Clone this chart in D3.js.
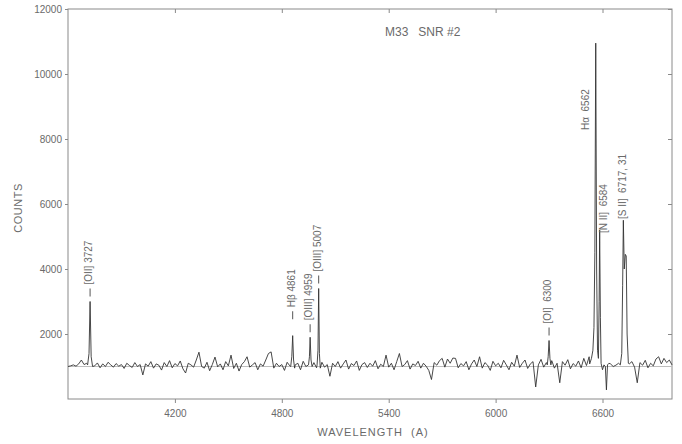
<!DOCTYPE html>
<html>
<head>
<meta charset="utf-8">
<script src="https://cdn.jsdelivr.net/npm/d3@7"></script>
<style>
  body { margin: 0; background: #fff; }
  text { font-family: "Liberation Sans", Arial, sans-serif; fill: #6a6a6a; white-space: pre; }
</style>
</head>
<body>
<div id="chart"></div>
<script>
'use strict';

// wavelength grid of the continuum (A), one value every 15 A from 3600
const gridStart = 3600;
const gridStep  = 15;

// continuum counts
const continuum = [
  1000, 1020, 1050, 1010, 1080, 1200, 1060, 1100, 1040, 1000,
  1020, 1110,  960, 1080, 1000, 1130, 1050,  980, 1090, 1010,
  1060,  940, 1100, 1030,  970, 1120, 1000, 1060,  740, 1080,
  1010, 1150,  950, 1080, 1040,  890, 1120, 1000, 1180,  960,
  1090, 1020, 1170,  930,  800, 1100, 1050,  980, 1200, 1440,
  1000,  950, 1130,  870, 1060, 1290,  990, 1080,  900, 1150,
  1020, 1350,  940, 1100,  860, 1060, 1150, 1300,  980, 1050,
  1120,  900, 1080, 1010, 1200, 1400, 1450,  950, 1100, 1000,
  1060,  880, 1130, 1020,  960, 1050, 1100,  900, 1160, 1000,
  1080, 1020, 1120,  960, 1040, 1130,  980, 1060,  700, 1100,
  1000, 1150,  950, 1080, 1200,  920, 1090, 1030, 1170,  880,
  1060, 1120,  970, 1100, 1010, 1180,  930, 1070, 1000, 1350,
   980, 1100,  900, 1150, 1400, 1000, 1060, 1180,  920, 1080,
  1030, 1160,  950, 1100, 1010,  880,  600, 1120, 1040, 1180,
  1250,  980, 1230, 1100, 1260, 1250,  960, 1090, 1020, 1150,
   900, 1080, 1200, 1000, 1300,  950, 1120, 1040,  880, 1160,
  1020, 1100,  960, 1190, 1050,  900, 1130, 1010, 1350,  970,
  1100, 1200,  940, 1080, 1150,  370, 1050, 1220,  980, 1120,
  1060, 1180,  950, 1100,  500, 1150, 1040, 1210,  930, 1090,
  1010, 1170,  960, 1250, 1030, 1300, 1080, 1000, 1050, 1100,
  1000, 1050,  950, 1080, 1000, 1040, 1100, 1060, 1000, 1050,
  1080, 1150,  980,  500, 1120, 1040, 1190,  960, 1100, 1020,
  1230, 1300, 1080, 1250, 1120, 1200, 1050
];

// emission line profiles [wavelength, counts]
const lineOII   = [[3710, 1050], [3718, 1400], [3724, 3000], [3730, 1300], [3738, 1000]];
const lineHb    = [[4850, 1000], [4856, 1300], [4861, 1950], [4866, 1200], [4872, 950]];
const lineOIII1 = [[4950, 1050], [4955, 1300], [4959, 1900], [4964, 1200], [4970, 1000]];
const lineOIII2 = [[4998, 1050], [5003, 1500], [5007, 3400], [5011, 1400], [5016, 950]];
const lineOI    = [[6290, 1050], [6295, 1300], [6300, 1800], [6305, 1250], [6310, 1050]];
const lineHaNII = [[6528, 1080], [6538, 1250], [6546, 1500], [6552, 2200], [6557, 4500],
                   [6562, 10950], [6567, 4000], [6572, 1500], [6577, 1250], [6581, 3000],
                   [6584, 5200], [6588, 2500], [6592, 1100], [6600, 900], [6608, 1050],
                   [6616, 1000], [6622, 280], [6628, 1050], [6636, 1100]];
const lineSII   = [[6700, 1050], [6708, 1400], [6713, 3500], [6717, 5500], [6722, 4000],
                   [6728, 4450], [6733, 4400], [6738, 2000], [6745, 1100]];

const continuumLevel = 1000;

const xTicks = [4200, 4800, 5400, 6000, 6600];
const yTicks = [2000, 4000, 6000, 8000, 10000, 12000];

// line identifications: label, wavelength, peak counts
const labels = [
  {text: '[OII] 3727',     wave: 3724, peak: 3000},
  {text: 'H\u03b2 4861',   wave: 4861, peak: 2300},
  {text: '[OIII] 4959',    wave: 4959, peak: 1900},
  {text: '[OIII] 5007',    wave: 5007, peak: 3400},
  {text: '[OI]  6300',     wave: 6300, peak: 1800},
  {text: 'H\u03b1  6562',  wave: 6562, peak: 10950},
  {text: '[N II]  6584',   wave: 6584, peak: 5200},
  {text: '[S II]  6717, 31', wave: 6717, peak: 5500}
];

const width  = 682;
const height = 444;
const margin = {left: 68, right: 10, top: 9, bottom: 45};

const x = d3.scaleLinear().domain([3600, 6990]).range([margin.left, width - margin.right]);
const y = d3.scaleLinear().domain([0, 12000]).range([height - margin.bottom, margin.top]);

// merge continuum and emission lines into one spectrum
let profiles = [lineOII, lineHb, lineOIII1, lineOIII2, lineOI, lineHaNII, lineSII];
let spectrum = continuum.map(function(c, i) { return [gridStart + i * gridStep, c]; });
spectrum = spectrum.filter(function(p) {
  return !profiles.some(function(pr) { return p[0] >= pr[0][0] && p[0] <= pr[pr.length - 1][0]; });
});
for (let pr of profiles) spectrum = spectrum.concat(pr);
spectrum.sort(function(a, b) { return a[0] - b[0]; });

const svg = d3.select('#chart').append('svg')
  .attr('width', width)
  .attr('height', height);

// frame
svg.append('rect')
  .attr('x', x.range()[0])
  .attr('y', y.range()[1])
  .attr('width', x.range()[1] - x.range()[0])
  .attr('height', y.range()[0] - y.range()[1])
  .attr('fill', 'none')
  .attr('stroke', '#8a8a8a')
  .attr('stroke-width', 1);

// bottom axis
svg.append('g')
  .attr('transform', 'translate(0,' + y.range()[0] + ')')
  .call(d3.axisBottom(x).tickValues(xTicks).tickSize(4).tickPadding(7).tickFormat(d3.format('d')));
// top ticks
svg.append('g')
  .attr('transform', 'translate(0,' + y.range()[1] + ')')
  .call(d3.axisTop(x).tickValues(xTicks).tickSize(-4).tickFormat(''));
// left axis
svg.append('g')
  .attr('transform', 'translate(' + x.range()[0] + ',0)')
  .call(d3.axisLeft(y).tickValues(yTicks).tickSize(3).tickPadding(3).tickFormat(d3.format('d')));
// right ticks
svg.append('g')
  .attr('transform', 'translate(' + x.range()[1] + ',0)')
  .call(d3.axisRight(y).tickValues(yTicks).tickSize(-4).tickFormat(''));

svg.selectAll('.domain').remove();
svg.selectAll('.tick line').attr('stroke', '#8a8a8a');
svg.selectAll('.tick text')
  .attr('font-family', '"Liberation Sans", Arial, sans-serif')
  .attr('font-size', 10)
  .attr('fill', '#6a6a6a');

// continuum level
svg.append('line')
  .attr('x1', x.range()[0]).attr('x2', x.range()[1])
  .attr('y1', y(continuumLevel)).attr('y2', y(continuumLevel))
  .attr('stroke', '#bdbdbd')
  .attr('stroke-width', 1);

// spectrum
svg.append('path')
  .datum(spectrum)
  .attr('fill', 'none')
  .attr('stroke', '#333')
  .attr('stroke-width', 0.9)
  .attr('d', d3.line().x(function(d) { return x(d[0]); }).y(function(d) { return y(d[1]); }));

// line labels, rotated; dash marker between peak and label
labels.forEach(function(l, i) {
  let lx = x(l.wave);
  let ly = y(l.peak) - 5;
  let tx = lx - 1.5;
  let dash = true;
  if (i === 5) { tx = lx - 10; ly = 130; dash = false; }       // H alpha, left of the line
  if (i === 6) { tx = lx + 4; ly = 233; dash = false; }
  if (i === 7) { tx = x(6724) - 2.5; ly = 219; dash = false; }
  if (dash) {
    svg.append('line')
      .attr('x1', lx).attr('x2', lx)
      .attr('y1', ly).attr('y2', ly - 8)
      .attr('stroke', '#555')
      .attr('stroke-width', 1);
    ly -= 12;
  }
  svg.append('text')
    .attr('transform', 'translate(' + tx + ',' + ly + ') rotate(-90)')
    .attr('font-size', 10)
    .attr('dy', '0.35em')
    .text(l.text);
});

// title
svg.append('text')
  .attr('x', 385).attr('y', 36)
  .attr('font-size', 12)
  .text('M33   SNR #2');

// axis titles
svg.append('text')
  .attr('transform', 'translate(22,208) rotate(-90)')
  .attr('text-anchor', 'middle')
  .attr('font-size', 11)
  .attr('letter-spacing', 0.5)
  .text('COUNTS');

svg.append('text')
  .attr('x', 373).attr('y', 436)
  .attr('text-anchor', 'middle')
  .attr('font-size', 11)
  .attr('letter-spacing', 1)
  .text('WAVELENGTH  (A)');
</script>
</body>
</html>
